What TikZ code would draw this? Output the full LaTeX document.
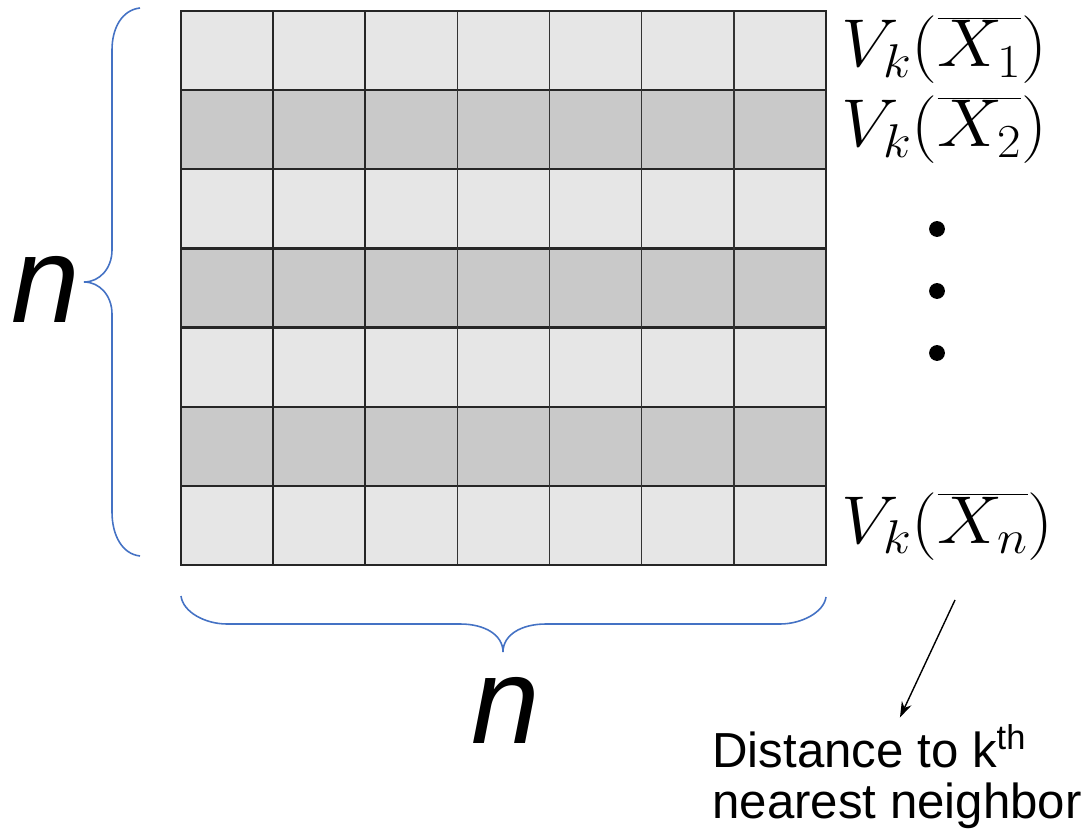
\RequirePackage{fix-cm}
\documentclass[tikz,border=0pt]{standalone}
\usepackage{fontspec}
\setsansfont{Liberation Sans}
\usetikzlibrary{arrows.meta, positioning}
\definecolor{GridLight}{HTML}{E6E6E6}
\definecolor{GridDark}{HTML}{C9C9C9}
\definecolor{BraceBlue}{HTML}{4472C4}

\begin{document}
\begin{tikzpicture}[
    x=0.02cm, y=-0.02cm,
    >={Stealth[length=9pt, width=6pt]},
    rowline/.style={line width=1.3pt, color=black!85},
    thickcol/.style={line width=1.3pt, color=black!85},
    thincol/.style={line width=0.8pt, color=black!80},
    border/.style={line width=1.6pt, color=black!85},
    brace/.style={line width=0.9pt, color=BraceBlue},
    vlabel/.style={inner sep=0pt, xscale=1.08, font=\fontsize{38.5}{44}\selectfont},
    bign/.style={inner sep=0pt, font=\fontsize{70}{80}\selectfont\sffamily\itshape},
    note/.style={inner sep=0pt, align=left,
                 font=\fontsize{28}{29}\selectfont\sffamily},
    arr/.style={->, line width=0.8pt}
]
\useasboundingbox (0,0) rectangle (1092,834);

% --- Grid ---------------------------------------------------------------
\foreach \r/\shade in {0/GridLight, 1/GridDark, 2/GridLight, 3/GridDark,
                       4/GridLight, 5/GridDark, 6/GridLight}
  \fill[\shade] (181,{11+79.14*\r}) rectangle (826,{11+79.14*(\r+1)});
\foreach \r in {1,...,6}
  \draw[rowline] (181,{11+79.14*\r}) -- (826,{11+79.14*\r});
\foreach \c/\w in {1/thickcol, 2/thickcol, 3/thincol, 4/thincol,
                   5/thincol, 6/thincol}
  \draw[\w] ({181+92.14*\c},11) -- ({181+92.14*\c},565);
\draw[border] (181,11) rectangle (826,565);

% --- Row labels ---------------------------------------------------------
\node[vlabel, anchor=base west] (v1) at (841,67)  {$V_k(\overline{X_1})$};
\node[vlabel, anchor=base west] (v2) at (841,147) {$V_k(\overline{X_2})$};
\node[vlabel, anchor=base west] (vn) at (841,543) {$V_k(\overline{X_n})$};
\foreach \y in {229,291,353}
  \fill (937,\y) circle[radius=4.5pt];

% --- Braces -------------------------------------------------------------
\draw[brace] (140,8) .. controls (122,10) and (112,28) .. (112,50)
  -- (112,250) .. controls (112,268) and (100,282) .. (84,282)
  .. controls (100,282) and (112,296) .. (112,314)
  -- (112,512) .. controls (112,535) and (122,554) .. (140,556);
\draw[brace] (181,596) .. controls (183,612) and (205,624) .. (227,624)
  -- (460,624) .. controls (485,624) and (503,635) .. (503,652)
  .. controls (503,635) and (521,624) .. (546,624)
  -- (780,624) .. controls (802,624) and (824,612) .. (826,597);

\node[bign, anchor=base] (nleft) at (46,323) {n};
\node[bign, anchor=base] (nbottom) at (506,743) {n};

% --- Annotation ---------------------------------------------------------
\node[note, anchor=base west] (dist) at (712,818)
  {Distance to k\textsuperscript{th}\\nearest neighbor};
\coordinate (tail) at (955,600);
\draw[arr, shorten >=4pt] (tail) -- (dist.north);

\end{tikzpicture}
\end{document}
